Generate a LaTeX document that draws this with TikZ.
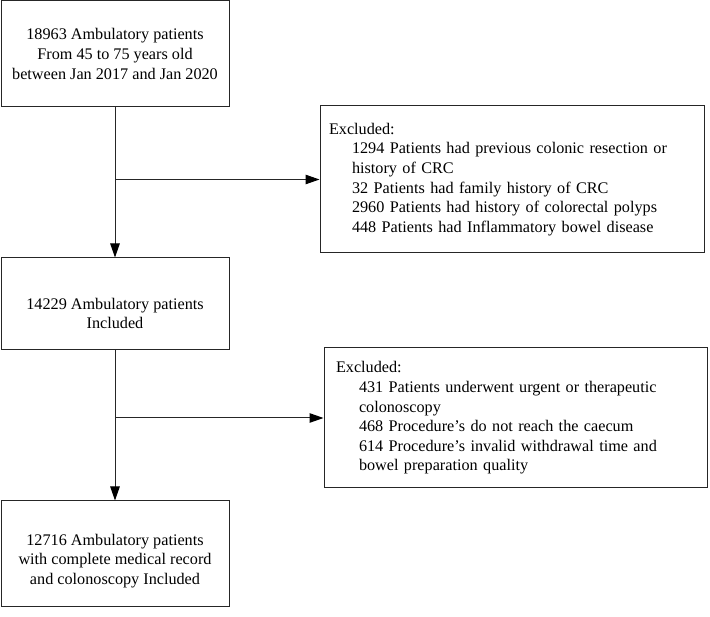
\documentclass[tikz,border=0pt]{standalone}
\usepackage{fontspec}
\setmainfont{Liberation Serif}
\usetikzlibrary{arrows.meta}

\begin{document}
\begin{tikzpicture}[
    x=1pt,y=-1pt,
    stage/.style={draw=black!85,line width=1pt,inner sep=0pt,align=center,
      font=\fontsize{16.2}{19.6}\selectfont},
    excl/.style={draw=black!85,line width=1pt,inner ysep=0pt,align=left,
      font=\fontsize{16.2}{19.6}\selectfont},
    flow/.style={-{Triangle[length=14pt,width=9.5pt,fill=black,color=black]},draw=black!85,line width=1pt}
]
\useasboundingbox (0,0) rectangle (710,617);

% main stream of patients
\node[stage,minimum width=228,minimum height=106] (src) at (115,54)
  {18963 Ambulatory patients\\From 45 to 75 years old\\between Jan 2017 and Jan 2020};
\node[stage,minimum width=228,minimum height=92] (inc) at (115,304)
  {\rule{0pt}{30pt}14229 Ambulatory patients\\Included};
\node[stage,minimum width=228,minimum height=105] (fin) at (115,553.5)
  {\rule{0pt}{26pt}12716 Ambulatory patients\\with complete medical record\\and colonoscopy Included};

% exclusion boxes
\node[excl,inner xsep=9pt,text width=366,minimum height=147] (exA) at (512,179.5)
  {Excluded:\\
   \hspace*{23pt}1294 Patients had previous colonic resection or\\
   \hspace*{23pt}history of CRC\\
   \hspace*{23pt}32 Patients had family history of CRC\\
   \hspace*{23pt}2960 Patients had history of colorectal polyps\\
   \hspace*{23pt}448 Patients had Inflammatory bowel disease};
\node[excl,inner xsep=12pt,text width=359,minimum height=140] (exB) at (515.5,418)
  {Excluded:\\
   \hspace*{23pt}431 Patients underwent urgent or therapeutic\\
   \hspace*{23pt}colonoscopy\\
   \hspace*{23pt}468 Procedure’s do not reach the caecum\\
   \hspace*{23pt}614 Procedure’s invalid withdrawal time and\\
   \hspace*{23pt}bowel preparation quality};

% arrows
\coordinate (jA) at (src.south |- exA.west);
\coordinate (jB) at (inc.south |- exB.west);
\draw[flow] (src.south) -- (inc.north);
\draw[flow] (inc.south) -- (fin.north);
\draw[flow] (jA) -- (exA.west);
\draw[flow] (jB) -- (exB.west);
\end{tikzpicture}
\end{document}
